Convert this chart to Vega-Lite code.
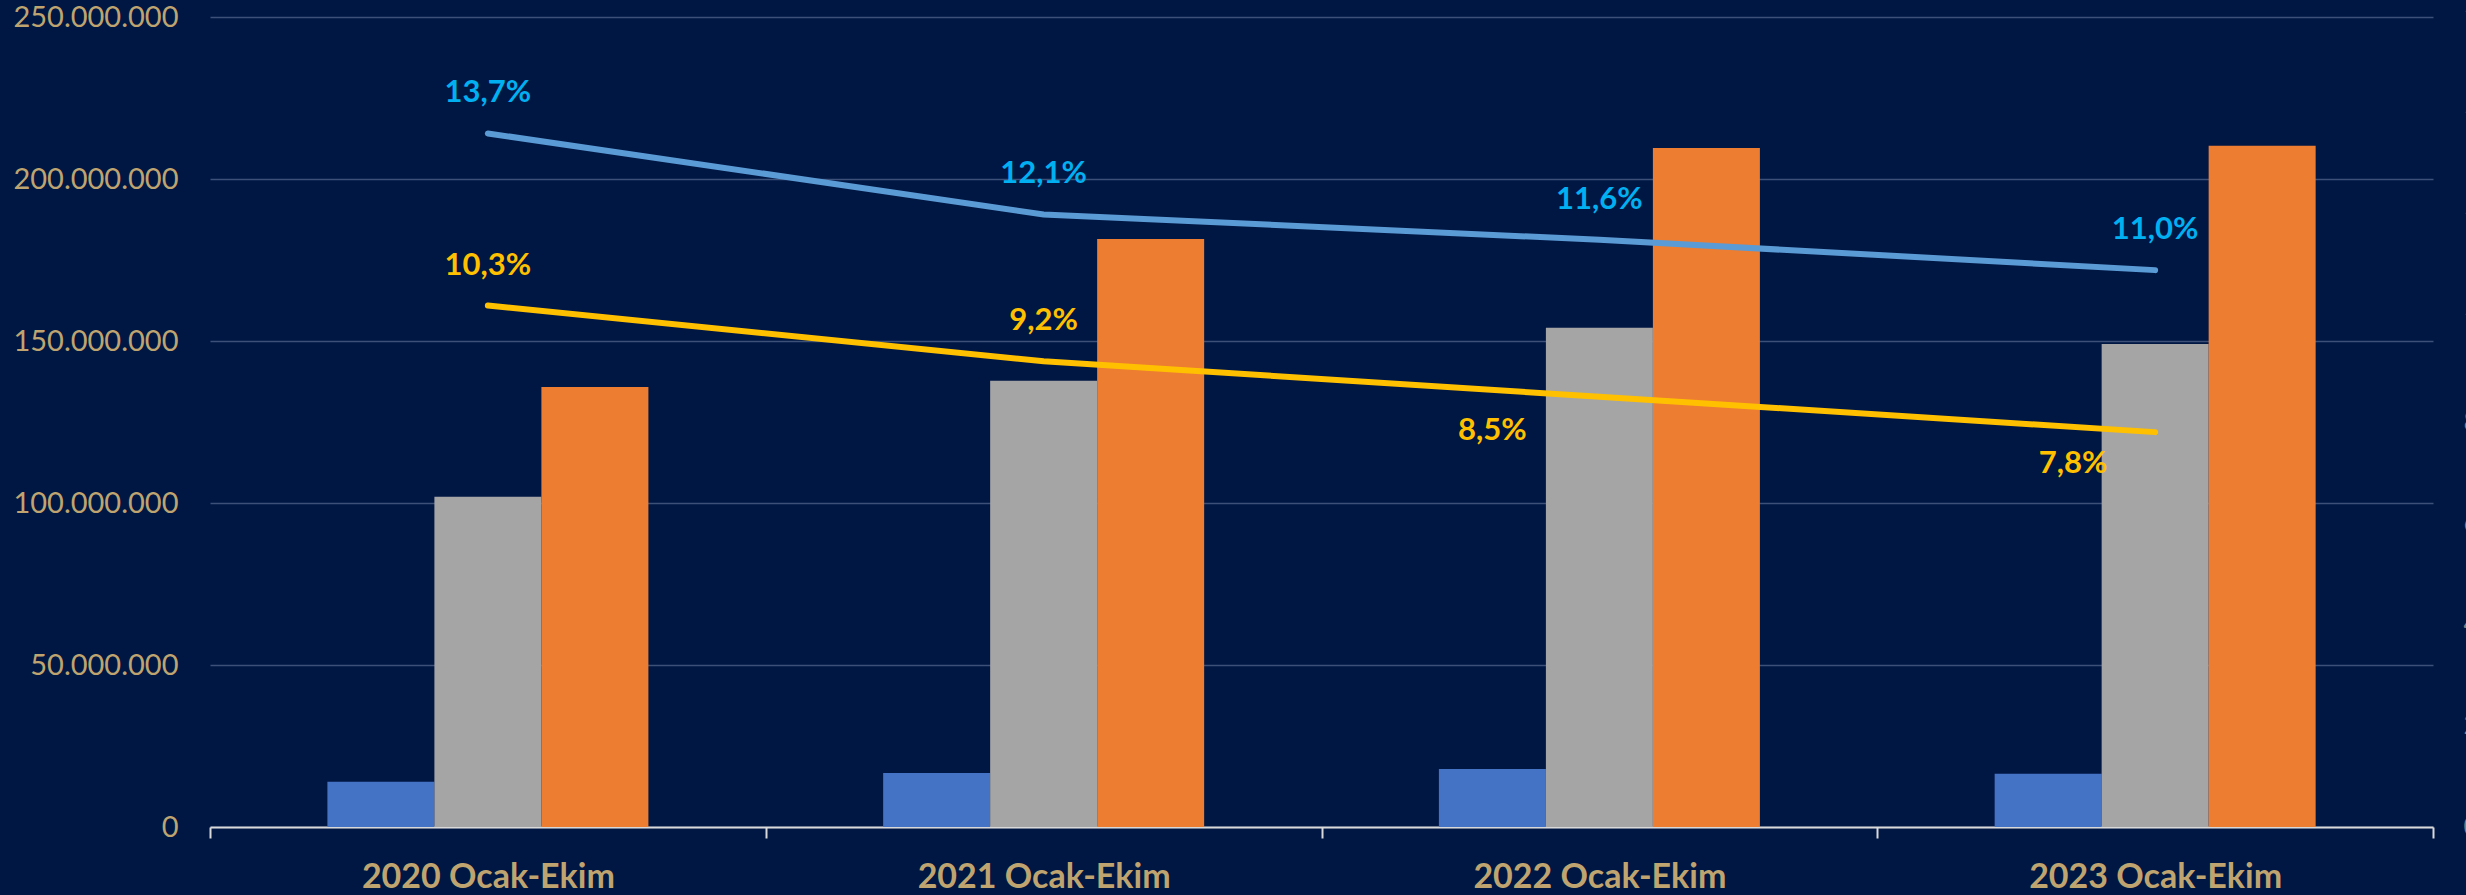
{
  "$schema": "https://vega.github.io/schema/vega-lite/v6.json",
  "width": 2223,
  "height": 810,
  "autosize": {"type": "none"},
  "padding": {"left": 210, "top": 17, "right": 33, "bottom": 68},
  "background": "#001744",
  "config": {
    "locale": {
      "number": {"decimal": ",", "thousands": ".", "grouping": [3], "currency": ["", " ₺"]}
    },
    "view": {"stroke": null},
    "font": "Lato"
  },
  "datasets": {
    "bars": [
      {"period": "2020 Ocak-Ekim", "series": "Seri 1", "value": 14000000},
      {"period": "2020 Ocak-Ekim", "series": "Seri 2", "value": 101900000},
      {"period": "2020 Ocak-Ekim", "series": "Seri 3", "value": 135800000},
      {"period": "2021 Ocak-Ekim", "series": "Seri 1", "value": 16700000},
      {"period": "2021 Ocak-Ekim", "series": "Seri 2", "value": 137700000},
      {"period": "2021 Ocak-Ekim", "series": "Seri 3", "value": 181500000},
      {"period": "2022 Ocak-Ekim", "series": "Seri 1", "value": 17900000},
      {"period": "2022 Ocak-Ekim", "series": "Seri 2", "value": 154100000},
      {"period": "2022 Ocak-Ekim", "series": "Seri 3", "value": 209600000},
      {"period": "2023 Ocak-Ekim", "series": "Seri 1", "value": 16400000},
      {"period": "2023 Ocak-Ekim", "series": "Seri 2", "value": 149100000},
      {"period": "2023 Ocak-Ekim", "series": "Seri 3", "value": 210300000}
    ],
    "ratios": [
      {"period": "2020 Ocak-Ekim", "line": "A", "ratio": 0.137},
      {"period": "2021 Ocak-Ekim", "line": "A", "ratio": 0.121},
      {"period": "2022 Ocak-Ekim", "line": "A", "ratio": 0.116},
      {"period": "2023 Ocak-Ekim", "line": "A", "ratio": 0.110},
      {"period": "2020 Ocak-Ekim", "line": "B", "ratio": 0.103},
      {"period": "2021 Ocak-Ekim", "line": "B", "ratio": 0.092},
      {"period": "2022 Ocak-Ekim", "line": "B", "ratio": 0.085},
      {"period": "2023 Ocak-Ekim", "line": "B", "ratio": 0.078}
    ]
  },
  "encoding": {
    "x": {
      "field": "period",
      "type": "nominal",
      "sort": null,
      "scale": {"paddingInner": 0, "paddingOuter": 0},
      "axis": {
        "title": null,
        "labelAngle": 0,
        "labelFontSize": 34,
        "labelFontWeight": "bold",
        "labelColor": "#BFA46F",
        "labelPadding": 22,
        "labelLimit": 0,
        "domainColor": "#D9D9D9",
        "domainWidth": 2,
        "tickColor": "#D9D9D9",
        "tickWidth": 2,
        "tickSize": 11,
        "tickBand": "extent",
        "grid": false
      }
    }
  },
  "layer": [
    {
      "data": {"name": "bars"},
      "mark": {"type": "bar"},
      "encoding": {
        "xOffset": {
          "field": "series",
          "type": "nominal",
          "sort": ["Seri 1", "Seri 2", "Seri 3"],
          "scale": {"paddingInner": 0, "paddingOuter": 0, "range": [117.4, 438.4]}
        },
        "y": {
          "field": "value",
          "type": "quantitative",
          "scale": {"domain": [0, 250000000], "nice": false},
          "axis": {
            "title": null,
            "values": [0, 50000000, 100000000, 150000000, 200000000, 250000000],
            "format": ",d",
            "labelFontSize": 29,
            "labelColor": "#BFA46F",
            "labelPadding": 32,
            "domain": false,
            "ticks": false,
            "grid": true,
            "gridColor": "#3D5077",
            "gridWidth": 1.5
          }
        },
        "color": {
          "field": "series",
          "type": "nominal",
          "scale": {"domain": ["Seri 1", "Seri 2", "Seri 3"], "range": ["#4472C4", "#A5A5A5", "#ED7D31"]},
          "legend": null
        }
      }
    },
    {
      "data": {"name": "ratios"},
      "encoding": {
        "y": {
          "field": "ratio",
          "type": "quantitative",
          "scale": {"domain": [0, 0.16], "nice": false},
          "axis": {
            "orient": "right",
            "title": null,
            "values": [0, 0.02, 0.04, 0.06, 0.08, 0.1, 0.12, 0.14, 0.16],
            "format": ".0%",
            "labelFontSize": 26,
            "labelColor": "#808080",
            "labelAlign": "left",
            "labelPadding": 30,
            "domain": false,
            "ticks": false,
            "grid": false
          }
        }
      },
      "layer": [
        {
          "transform": [{"filter": "datum.line == 'A'"}],
          "mark": {"type": "line", "color": "#5B9BD5", "strokeWidth": 6, "strokeCap": "round"}
        },
        {
          "transform": [{"filter": "datum.line == 'B'"}],
          "mark": {"type": "line", "color": "#FFC000", "strokeWidth": 6, "strokeCap": "round"}
        },
        {
          "transform": [{"filter": "datum.line == 'A'"}],
          "mark": {"type": "text", "color": "#00B0F0", "fontSize": 31, "fontWeight": "bold", "baseline": "alphabetic", "align": "center", "dy": -31},
          "encoding": {"text": {"field": "ratio", "type": "quantitative", "format": ".1%"}}
        },
        {
          "transform": [{"filter": "datum.line == 'B' && (datum.period == '2020 Ocak-Ekim' || datum.period == '2021 Ocak-Ekim')"}],
          "mark": {"type": "text", "color": "#FFC000", "fontSize": 31, "fontWeight": "bold", "baseline": "alphabetic", "align": "center", "dy": -31},
          "encoding": {"text": {"field": "ratio", "type": "quantitative", "format": ".1%"}}
        },
        {
          "transform": [{"filter": "datum.line == 'B' && datum.period == '2022 Ocak-Ekim'"}],
          "mark": {"type": "text", "color": "#FFC000", "fontSize": 31, "fontWeight": "bold", "baseline": "alphabetic", "align": "center", "dx": -107, "dy": 43},
          "encoding": {"text": {"field": "ratio", "type": "quantitative", "format": ".1%"}}
        },
        {
          "transform": [{"filter": "datum.line == 'B' && datum.period == '2023 Ocak-Ekim'"}],
          "mark": {"type": "text", "color": "#FFC000", "fontSize": 31, "fontWeight": "bold", "baseline": "alphabetic", "align": "center", "dx": -82, "dy": 41},
          "encoding": {"text": {"field": "ratio", "type": "quantitative", "format": ".1%"}}
        }
      ]
    }
  ],
  "resolve": {"scale": {"y": "independent"}}
}
